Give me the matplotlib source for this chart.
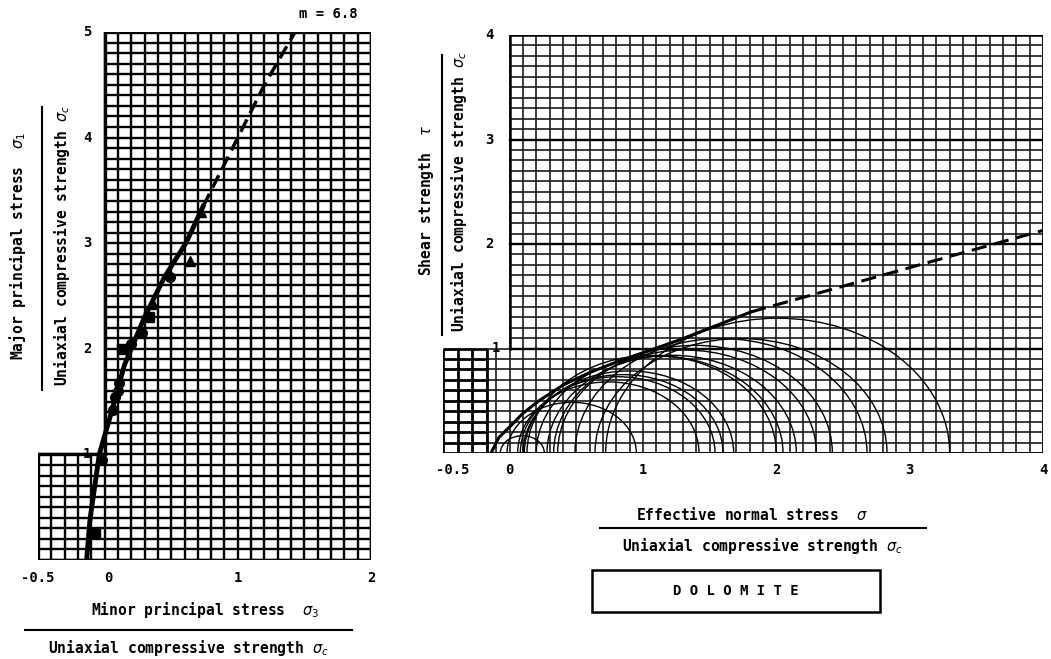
import matplotlib.pyplot as plt
import numpy as np
from matplotlib.lines import Line2D
from matplotlib.patches import Arc, Rectangle

W, H = 1051, 659

# triaxial test results, normalised by uniaxial compressive strength
sig3 = [-0.07, -0.02, 0.06, 0.08, 0.10, 0.11, 0.13, 0.20, 0.28, 0.33, 0.36, 0.49, 0.64, 0.72]
sig1 = [0.26, 0.95, 1.42, 1.54, 1.60, 1.68, 2.00, 2.05, 2.15, 2.30, 2.42, 2.68, 2.83, 3.30]
marks = ['s', 'o', 'o', 'o', 'o', 'o', 's', 'o', 'o', 's', '^', 'o', '^', '^']

# fitted failure criterion (m = 6.8)
fit_s3 = [-0.135, -0.11, -0.04, 0.04, 0.15, 0.30, 0.45, 0.61, 0.74]
fit_s1 = [0.0, 0.38, 1.0, 1.35, 1.85, 2.30, 2.68, 3.0, 3.35]
ext_s3 = [0.74, 1.0, 1.2, 1.43]
ext_s1 = [3.35, 4.0, 4.5, 5.0]

# Mohr envelope
env_sn = [-0.14, -0.08, 0.0, 0.1, 0.22, 0.4, 0.6, 0.8, 1.0, 1.27, 1.55, 1.81]
env_tau = [0.0, 0.15, 0.25, 0.38, 0.5, 0.65, 0.77, 0.87, 0.96, 1.08, 1.22, 1.35]
env_ext_sn = [1.81, 4.0]
env_ext_tau = [1.35, 2.13]

left_xticks = [-0.5, 0, 1, 2]
left_yticks = [1, 2, 3, 4, 5]
right_xticks = [-0.5, 0, 1, 2, 3, 4]
right_yticks = [1, 2, 3, 4]


def px(x, y):
    return x / W, 1 - y / H


def axes_px(fig, x0, y0, x1, y1):
    return fig.add_axes([x0 / W, 1 - y1 / H, (x1 - x0) / W, (y1 - y0) / H])


def grid(ax, xs, y0, y1, ys, x0, x1, lw, color):
    for x in xs:
        ax.plot([x, x], [y0, y1], color=color, lw=lw, solid_capstyle='butt', zorder=1)
    for y in ys:
        ax.plot([x0, x1], [y, y], color=color, lw=lw, solid_capstyle='butt', zorder=1)


fig = plt.figure(figsize=(W / 100, H / 100), dpi=100)
font = dict(family='DejaVu Sans Mono', fontweight='bold', color='black')

# ---------------- left: principal stress plot
ax1 = axes_px(fig, 38, 32, 371, 560)
ax1.set_xlim(-0.5, 2)
ax1.set_ylim(0, 5)
ax1.axis('off')

gx = np.round(np.arange(0, 2.001, 0.1), 2)
gy = np.round(np.arange(0, 5.001, 0.1), 2)
grid(ax1, gx, 0, 5, gy[gy > 1], 0, 2, 1.7, 'black')
grid(ax1, np.round(np.arange(-0.5, 0, 0.1), 2), 0, 1, gy[gy <= 1], -0.5, 2, 1.7, 'black')
ax1.plot([0, 0, 2, 2, -0.5, -0.5, 0], [1, 5, 5, 0, 0, 1, 1], color='black', lw=2.4, zorder=1)

ax1.plot(fit_s3, fit_s1, color='black', lw=3.5, zorder=3)
ax1.plot(ext_s3, ext_s1, color='black', lw=2.5, ls=(0, (4, 2)), zorder=3)
for x, y, m in zip(sig3, sig1, marks):
    ax1.plot(x, y, marker=m, ms=7, color='black', zorder=4)

for t in left_xticks:
    lab = '-0.5' if t == -0.5 else str(t)
    ax1.text(t if t != 0 else 0.03, -0.17, lab, ha='center', va='center', fontsize=10, **font)
for t in left_yticks:
    ax1.text(-0.13, t, str(t), ha='center', va='center', fontsize=10, **font)
ax1.text(1.9, 5.1, 'm = 6.8', ha='right', va='bottom', fontsize=10, **font)

fig.text(*px(18, 246), r'Major principal stress  $\sigma_1$', rotation=90,
         ha='center', va='center', fontsize=10.5, **font)
fig.text(*px(62, 246), r'Uniaxial compressive strength $\sigma_c$', rotation=90,
         ha='center', va='center', fontsize=10.5, **font)
fig.add_artist(Line2D([42 / W, 42 / W], [1 - 107 / H, 1 - 390 / H], color='black', lw=1.5))

fig.text(*px(205, 610), r'Minor principal stress  $\sigma_3$',
         ha='center', va='center', fontsize=10.5, **font)
fig.add_artist(Line2D([25 / W, 352 / W], [1 - 630 / H, 1 - 630 / H], color='black', lw=1.5))
fig.text(*px(188, 648), r'Uniaxial compressive strength $\sigma_c$',
         ha='center', va='center', fontsize=10.5, **font)

# ---------------- right: Mohr circle plot
ax2 = axes_px(fig, 443, 35, 1043, 453)
ax2.set_xlim(-0.5, 4)
ax2.set_ylim(0, 4)
ax2.axis('off')

rx = np.round(np.arange(0, 4.001, 0.1), 2)
ry = np.round(np.arange(0, 4.001, 0.1), 2)
grid(ax2, rx, 0, 4, ry[ry > 1], 0, 4, 1.2, '#1a1a1a')
grid(ax2, [-0.17, -0.1], 0, 1, ry[ry <= 1], -0.17, 4, 1.2, '#1a1a1a')
for y in [1, 2, 3]:
    ax2.plot([0, 4], [y, y], color='black', lw=1.7, zorder=1)
ax2.plot([0, 0, 4, 4, -0.17], [1, 4, 4, 0, 0], color='black', lw=1.8, zorder=1)
bx = np.linspace(-0.5, -0.17, 4)
grid(ax2, bx, 0, 1, ry[ry <= 1], -0.5, -0.17, 2.0, 'black')

for a, b in zip(sig3, sig1):
    c, r = (a + b) / 2, (b - a) / 2
    ax2.add_patch(Arc((c, 0), 2 * r, 2 * r, theta1=0, theta2=180, color='black', lw=1.0, zorder=3))
ax2.plot(env_sn, env_tau, color='black', lw=2.2, zorder=4)
ax2.plot(env_ext_sn, env_ext_tau, color='black', lw=2.2, ls=(0, (5, 2.5)), zorder=4)

for t in right_xticks:
    lab = '-0.5' if t == -0.5 else str(t)
    ax2.text(t if t != -0.5 else -0.43, -0.16, lab, ha='center', va='center', fontsize=10, **font)
for t in right_yticks:
    ax2.text(-0.1 if t == 1 else -0.15, t, str(t), ha='center', va='center', fontsize=10, **font)

fig.text(*px(427, 200), r'Shear strength  $\tau$', rotation=90,
         ha='center', va='center', fontsize=10.5, **font)
fig.add_artist(Line2D([442 / W, 442 / W], [1 - 55 / H, 1 - 335 / H], color='black', lw=1.5))
fig.text(*px(459, 192), r'Uniaxial compressive strength $\sigma_c$', rotation=90,
         ha='center', va='center', fontsize=10.5, **font)

fig.text(*px(752, 515), r'Effective normal stress  $\sigma$',
         ha='center', va='center', fontsize=10.5, **font)
fig.add_artist(Line2D([600 / W, 926 / W], [1 - 528 / H, 1 - 528 / H], color='black', lw=1.5))
fig.text(*px(762, 546), r'Uniaxial compressive strength $\sigma_c$',
         ha='center', va='center', fontsize=10.5, **font)

fig.add_artist(Rectangle(px(592, 612), 288 / W, 42 / H, transform=fig.transFigure,
                         fill=False, edgecolor='black', lw=1.8))
fig.text(*px(736, 591), 'D O L O M I T E', ha='center', va='center', fontsize=10, **font)

fig.savefig('out.png', dpi=100)
